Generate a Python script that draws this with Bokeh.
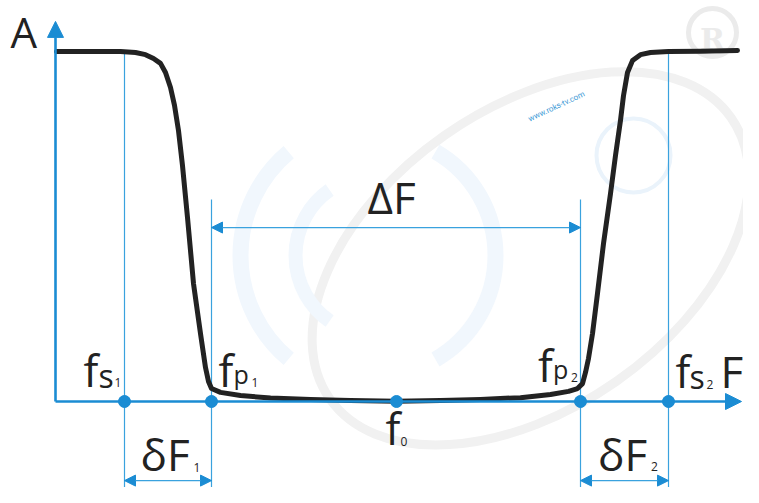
import math
from bokeh.plotting import figure
from bokeh.models import Range1d, Arrow, NormalHead
from bokeh.core.properties import value
from bokeh.embed import file_html
from bokeh.resources import INLINE

# ---------------- data ----------------
# characteristic frequencies (arbitrary units, y-axis at 0)
f_names = ["fs1", "fp1", "f0", "fp2", "fs2"]
f_values = [0.69, 1.56, 3.41, 5.25, 6.13]
fs1, fp1, f0, fp2, fs2 = f_values

# band-stop response curve (frequency, amplitude)
curve_f = [0.01, 0.45, 0.65, 0.80, 0.90, 0.98, 1.05, 1.10, 1.15, 1.19, 1.23,
           1.27, 1.32, 1.38, 1.45, 1.50, 1.53, 1.56, 1.65, 1.85, 2.15, 2.55,
           2.95, 3.41, 3.85, 4.25, 4.65, 4.95, 5.13, 5.22, 5.27, 5.30, 5.33,
           5.37, 5.42, 5.48, 5.55, 5.60, 5.65, 5.68, 5.72, 5.77, 5.85, 5.95,
           6.13, 6.45, 6.82]
curve_a = [1.000, 1.000, 1.000, 0.997, 0.991, 0.980, 0.966, 0.940, 0.897,
           0.846, 0.774, 0.674, 0.526, 0.337, 0.194, 0.097, 0.057, 0.037,
           0.026, 0.017, 0.010, 0.006, 0.003, 0.001, 0.003, 0.006, 0.011,
           0.020, 0.029, 0.037, 0.051, 0.083, 0.123, 0.194, 0.309, 0.451,
           0.594, 0.703, 0.803, 0.874, 0.940, 0.974, 0.991, 0.997, 1.000,
           1.001, 1.003]

a_top = 1.0          # pass-band level
bracket_top = 0.577  # top of the delta-F bracket ticks
dF_level = 0.497     # level of delta-F arrow
df_level = -0.226    # level of the small delta-F arrows
axis_y_tip = 1.086
axis_x_tip = 6.86

BLUE = "#1b8cd3"
THIN = "#3aa2de"
INK = "#222222"
FONT = value("Open Sans")

# ---------------- figure ----------------
W, H = 743, 487
p = figure(width=W, height=H, output_backend="svg", toolbar_location=None,
           x_range=Range1d(-0.55, -0.55 + W / 100.0),
           y_range=Range1d((401 - H) / 350.0, 401 / 350.0),
           min_border=0, outline_line_color=None,
           x_axis_location=None, y_axis_location=None)
p.grid.visible = False
p.background_fill_color = "white"
p.border_fill_color = "white"

# ---------------- faint watermark ----------------
p.ellipse(x=[4.75], y=[0.409], width=[490], height=[300],
          width_units="screen", height_units="screen",
          angle=[math.radians(35)], fill_color=None,
          line_color="#f1f1f1", line_width=9)
for r, a0, a1, lw in [(120, -60, 60, 16), (80, 125, 235, 14), (135, 130, 230, 16)]:
    p.arc(x=[3.20], y=[0.417], radius=r, radius_units="screen",
          start_angle=math.radians(a0), end_angle=math.radians(a1),
          line_color="#f1f7fd", line_width=lw)
p.scatter(x=[5.78], y=[0.703], size=74, marker="circle", fill_color=None,
          line_color="#eaf3fb", line_width=4)
p.scatter(x=[6.57], y=[1.054], size=48, marker="circle", fill_color=None,
          line_color="#ebebeb", line_width=5)
p.text(x=[6.57], y=[1.035], text=["R"], text_font=value("DejaVu Serif"),
       text_font_size="30px", text_font_style="bold", text_color="#ebebeb",
       text_align="center", text_baseline="middle")
p.text(x=[5.01], y=[0.843], text=["www.roks-tv.com"], angle=[math.radians(25)],
       text_font=value("Roboto"), text_font_size="8px", text_color="#3d9ad6",
       text_align="center", text_baseline="middle")

# ---------------- guide lines ----------------
p.segment(x0=[fs1, fp1, fp2, fs2], y0=[a_top, bracket_top, bracket_top, a_top],
          x1=[fs1, fp1, fp2, fs2], y1=[-0.4, -0.4, -0.4, -0.4],
          line_color=THIN, line_width=1.2)

# delta-F arrows
for xa, xb, yy in [(fp1, fp2, dF_level), (fs1, fp1, df_level), (fp2, fs2, df_level)]:
    p.add_layout(Arrow(x_start=xa, y_start=yy, x_end=xb, y_end=yy,
                       line_color=THIN, line_width=1.3,
                       start=NormalHead(size=11, fill_color=BLUE, line_color=BLUE, line_width=1),
                       end=NormalHead(size=11, fill_color=BLUE, line_color=BLUE, line_width=1)))

# main axes with arrows
p.add_layout(Arrow(x_start=0, y_start=0, x_end=axis_x_tip, y_end=0,
                   line_color=BLUE, line_width=2.6, start=None,
                   end=NormalHead(size=16, fill_color=BLUE, line_color=BLUE, line_width=1)))
p.add_layout(Arrow(x_start=0, y_start=0, x_end=0, y_end=axis_y_tip,
                   line_color=BLUE, line_width=2.6, start=None,
                   end=NormalHead(size=16, fill_color=BLUE, line_color=BLUE, line_width=1)))

# ---------------- response curve ----------------
p.line(curve_f, curve_a, line_color=INK, line_width=5, line_join="round",
       line_cap="round")

# marker dots on the frequency axis
p.scatter(x=f_values, y=[0] * len(f_values), size=12, marker="circle",
          fill_color=BLUE, line_color=BLUE)

# ---------------- labels ----------------
p.text(x=[-0.45], y=[1.056], text=["A"], text_font=FONT, text_font_size="42px",
       text_color=INK, text_align="left", text_baseline="alphabetic")

big_x = [6.65, f0 - 0.29, fs1 - 0.41, fp1 + 0.07, f0 - 0.11,
         fp2 - 0.425, fs2 + 0.07, fs1 + 0.16, fp2 + 0.175]
big_y = [0.086, 0.583, 0.089, 0.089, -0.077, 0.103, 0.086, -0.149, -0.149]
big_t = ["F", "ΔF", "f", "f", "f", "f", "f", "δF", "δF"]
p.text(x=big_x, y=big_y, text=big_t, text_font=FONT, text_font_size="44px",
       text_color=INK, text_align="left", text_baseline="alphabetic")

p.text(x=[fs1 - 0.26, fs2 + 0.21], y=[0.074, 0.071], text=["s", "s"],
       text_font=FONT, text_font_size="32px", text_color=INK,
       text_align="left", text_baseline="alphabetic")
p.text(x=[fp1 + 0.22, fp2 - 0.275], y=[0.080, 0.094], text=["p", "p"],
       text_font=FONT, text_font_size="25px", text_color=INK,
       text_align="left", text_baseline="alphabetic")

sub_x = [fs1 - 0.10, fp1 + 0.40, f0 + 0.04, fp2 - 0.095, fs2 + 0.38,
         fs1 + 0.69, fp2 + 0.705]
sub_y = [0.054, 0.054, -0.114, 0.069, 0.049, -0.189, -0.186]
sub_t = ["1", "1", "0", "2", "2", "1", "2"]
p.text(x=sub_x, y=sub_y, text=sub_t, text_font=FONT, text_font_size="12px",
       text_color=INK, text_align="left", text_baseline="alphabetic")

open("out.html", "w").write(file_html(p, INLINE))
